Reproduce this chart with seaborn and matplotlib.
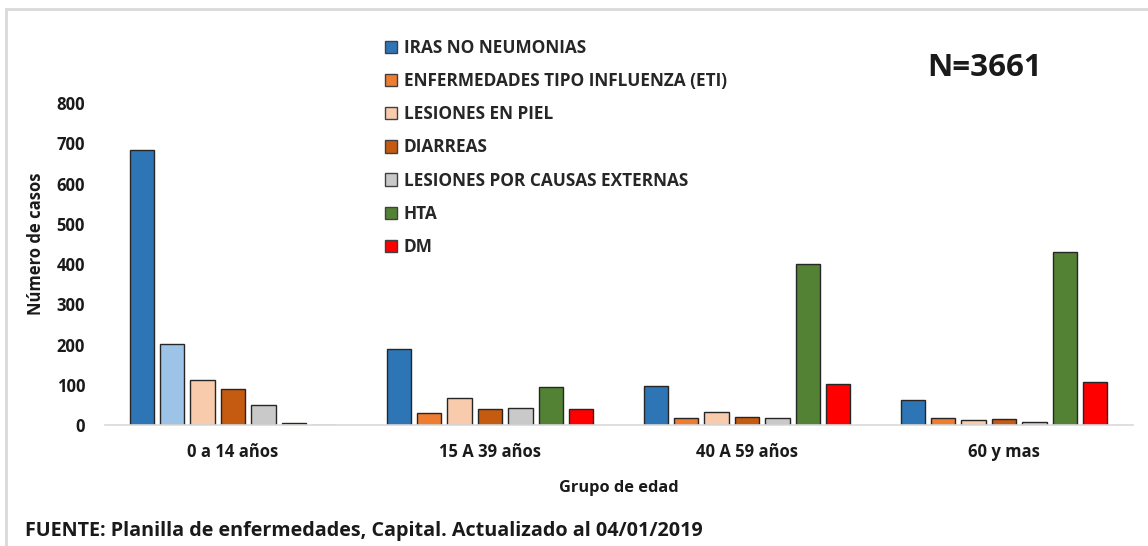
import matplotlib.pyplot as plt
import matplotlib.patches as mpatches
import seaborn as sns
import pandas as pd

# data
grupos = ['0 a 14 años', '15 A 39 años', '40 A 59 años', '60 y mas']
causas = ['IRAS NO NEUMONIAS', 'ENFERMEDADES TIPO INFLUENZA (ETI)', 'LESIONES EN PIEL',
          'DIARREAS', 'LESIONES POR CAUSAS EXTERNAS', 'HTA', 'DM']
iras = [683, 188, 97, 62]
eti = [201, 30, 17, 17]
piel = [113, 67, 33, 12]
diarreas = [89, 40, 19, 14]
externas = [49, 43, 17, 7]
hta = [5, 94, 400, 429]
dm = [0, 40, 103, 108]
colores = ['#2E75B6', '#ED7D31', '#F8CBAD', '#C55A11', '#C9C9C9', '#548235', '#FF0000']

series = [iras, eti, piel, diarreas, externas, hta, dm]
rows = []
for causa, vals in zip(causas, series):
    for g, v in zip(grupos, vals):
        rows.append({'grupo': g, 'causa': causa, 'casos': v})
df = pd.DataFrame(rows)

sns.set_theme(style="white")
plt.rcParams['font.family'] = ['Open Sans', 'DejaVu Sans']
plt.rcParams['font.weight'] = 'bold'
txt = '#1a1a1a'

fig = plt.figure(figsize=(11.48, 5.46), dpi=100)
ax = fig.add_axes([104.5 / 1148, 121 / 546, 1028 / 1148, 362 / 546])

sns.barplot(data=df, x='grupo', y='casos', hue='causa', order=grupos, hue_order=causas,
            palette=colores, saturation=1, width=0.83, gap=0.21, edgecolor='#262626',
            linewidth=1.0, legend=False, ax=ax)

# first ETI bar is drawn in light blue in the original
ax.containers[1][0].set_facecolor('#9DC3E6')

ax.set_ylim(0, 900)
ax.set_yticks(range(0, 801, 100))
ax.tick_params(axis='y', length=0, labelsize=12, colors=txt, pad=14)
ax.tick_params(axis='x', length=0, labelsize=12, colors=txt, pad=13)
for lbl in ax.get_xticklabels() + ax.get_yticklabels():
    lbl.set_fontweight('bold')
for s in ['top', 'right', 'left']:
    ax.spines[s].set_visible(False)
ax.spines['bottom'].set_color('#D9D9D9')
ax.spines['bottom'].set_linewidth(1.2)

ax.set_xlabel('Grupo de edad', fontsize=11.8, fontweight='bold', labelpad=14, color=txt)
ax.set_ylabel('Número de casos', fontsize=12, fontweight='bold', labelpad=8, color=txt)

handles = [mpatches.Patch(facecolor=c, edgecolor='#404040', linewidth=1.0) for c in colores]
fig.legend(handles, causas, loc='upper left', bbox_to_anchor=(385 / 1148, 1 - 39 / 546),
           frameon=False, handlelength=0.72, handleheight=0.72,
           handletextpad=0.38, labelspacing=0.88, borderaxespad=0, borderpad=0,
           prop={'weight': 'bold', 'size': 12.4})

fig.text(985 / 1148, 1 - 68 / 546, 'N=3661', fontsize=22.5, fontweight='bold',
         ha='center', va='center', color=txt)
fig.text(25 / 1148, 1 - 531 / 546,
         'FUENTE: Planilla de enfermedades, Capital. Actualizado al 04/01/2019',
         fontsize=14.2, fontweight='bold', ha='left', va='center', color=txt)

# light gray frame like the original chart area
frame = mpatches.Rectangle((6 / 1148, -0.1), 1.2, 1 - 9 / 546 + 0.1, transform=fig.transFigure,
                           fill=False, edgecolor='#D9D9D9', linewidth=2)
fig.patches.append(frame)

fig.savefig('out.png', dpi=100)
